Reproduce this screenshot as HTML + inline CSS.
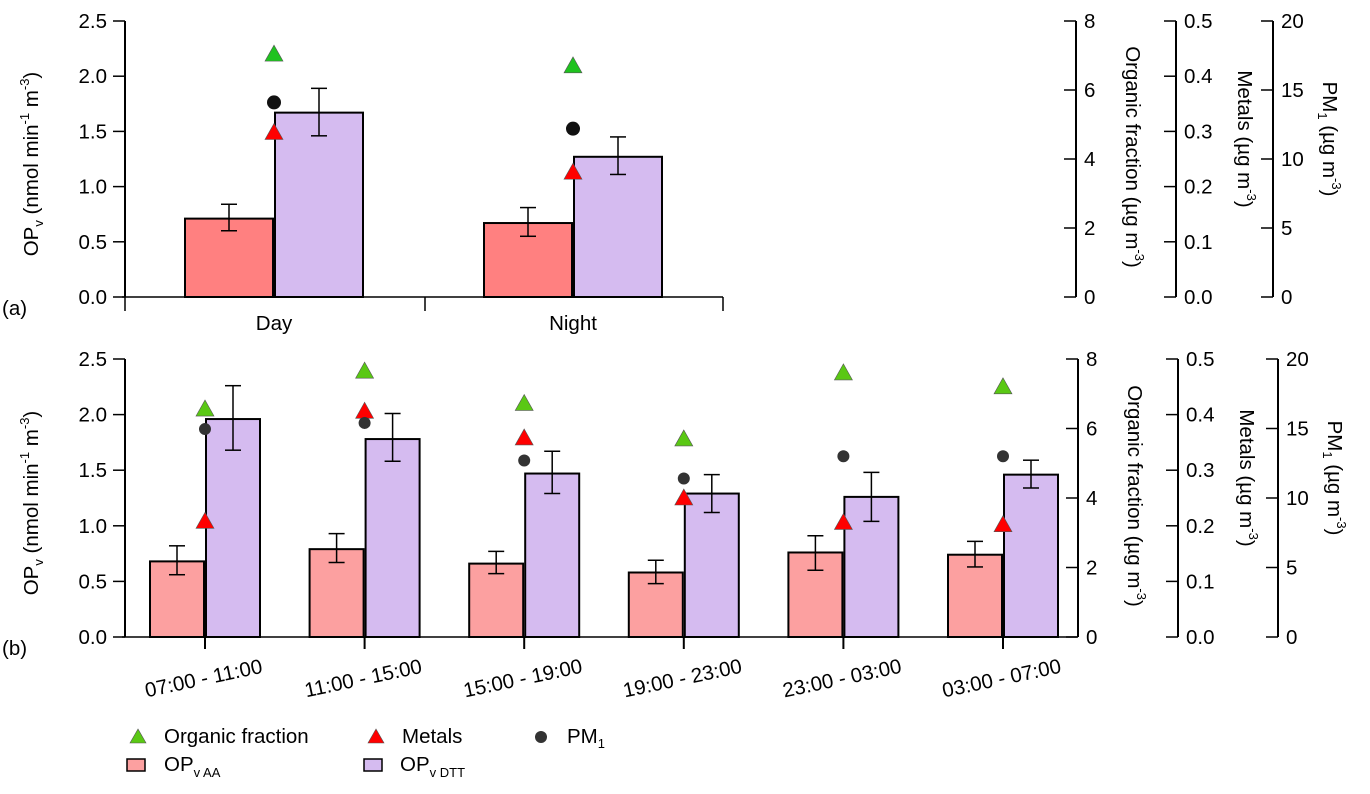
<!DOCTYPE html>
<html><head><meta charset="utf-8"><style>
html,body{margin:0;padding:0;background:#fff;}
svg{display:block;font-family:"Liberation Sans",Arial,sans-serif;}
</style></head><body>
<svg id="c" width="1370" height="794" viewBox="0 0 1370 794" xmlns="http://www.w3.org/2000/svg"></svg>
<script>
// Panel (a) data
const catsA = ["Day","Night"];
const aaA = [0.71,0.67], aaLoA=[0.60,0.55], aaHiA=[0.84,0.81];
const dttA = [1.67,1.27], dttLoA=[1.46,1.11], dttHiA=[1.89,1.45];
const orgA = [7.04,6.70];
const metA = [0.298,0.226];
const pmA = [14.1,12.2];
// Panel (b) data
const catsB = ["07:00 - 11:00","11:00 - 15:00","15:00 - 19:00","19:00 - 23:00","23:00 - 03:00","03:00 - 07:00"];
const aaB = [0.68,0.79,0.66,0.58,0.76,0.74];
const aaLoB = [0.56,0.67,0.57,0.48,0.60,0.63];
const aaHiB = [0.82,0.93,0.77,0.69,0.91,0.86];
const dttB = [1.96,1.78,1.47,1.29,1.26,1.46];
const dttLoB = [1.68,1.58,1.29,1.12,1.04,1.34];
const dttHiB = [2.26,2.01,1.67,1.46,1.48,1.59];
const orgB = [6.56,7.65,6.72,5.70,7.60,7.20];
const metB = [0.208,0.406,0.358,0.250,0.206,0.202];
const pmB = [14.96,15.4,12.7,11.4,13.0,13.0];
const opTicks = ["0.0","0.5","1.0","1.5","2.0","2.5"];
const orgTicks = ["0","2","4","6","8"];
const metTicks = ["0.0","0.1","0.2","0.3","0.4","0.5"];
const pmTicks = ["0","5","10","15","20"];

const FS=20.5;
const svg=document.getElementById('c');
const NS="http://www.w3.org/2000/svg";
function mk(tag,attrs,parent,name,text){
  const e=document.createElementNS(NS,tag);
  for(const k in attrs)e.setAttribute(k,attrs[k]);
  
  
  if(text!==undefined)e.textContent=text;
  (parent||svg).appendChild(e);return e;
}
function line(x1,y1,x2,y2,w,name,g){return mk('line',{x1,y1,x2,y2,stroke:'#000','stroke-width':w||1.5},g,name);}

function panel(cfg){
  const g=mk('g',{},svg,cfg.name);
  const y0=cfg.y0,y1=cfg.y1,H=y0-y1;
  const yOP=v=>y0-v/2.5*H, yOrg=v=>y0-v/8*H, yMet=v=>y0-v/0.5*H, yPM=v=>y0-v/20*H;
  line(125,y1,125,y0,2,'y-axis-left',g);
  opTicks.forEach((t,i)=>{const y=y0-i/5*H;line(113,y,125,y,1.5,'y-tick',g);
    mk('text',{x:107,y:y+7,'text-anchor':'end','font-size':FS},g,'y-tick-label',t);});
  const tt=mk('text',{transform:`translate(${cfg.titleX},${(y0+y1)/2+5}) rotate(-90)`,'text-anchor':'middle','font-size':FS},g,'y-axis-title');
  tt.innerHTML='OP<tspan font-size="13" dy="5">v</tspan><tspan dy="-5"> (nmol min</tspan><tspan font-size="13" dy="-9">-1</tspan><tspan dy="9"> m</tspan><tspan font-size="13" dy="-9">-3</tspan><tspan dy="9">)</tspan>';
  mk('text',{x:2,y:y0+18,'font-size':FS},g,'panel-label',cfg.label);
  line(122,y0,cfg.xEnd,y0,1.5,'x-axis',g);
  cfg.cats.forEach((c,i)=>{
    const cx=cfg.cx(i);
    mk('rect',{x:cx-cfg.bw-1,y:yOP(cfg.aa[i]),width:cfg.bw,height:y0-yOP(cfg.aa[i]),fill:cfg.aaCol,stroke:'#000','stroke-width':2},g,'bar-op-aa');
    mk('rect',{x:cx+1,y:yOP(cfg.dtt[i]),width:cfg.bw,height:y0-yOP(cfg.dtt[i]),fill:'#d5bbf0',stroke:'#000','stroke-width':2},g,'bar-op-dtt');
    [[cx-cfg.bw/2-1,cfg.aaLo[i],cfg.aaHi[i]],[cx+cfg.bw/2+1,cfg.dttLo[i],cfg.dttHi[i]]].forEach(e=>{
      line(e[0],yOP(e[1]),e[0],yOP(e[2]),1.5,'error-bar',g);
      line(e[0]-8,yOP(e[1]),e[0]+8,yOP(e[1]),1.5,'error-cap',g);
      line(e[0]-8,yOP(e[2]),e[0]+8,yOP(e[2]),1.5,'error-cap',g);
    });
    const tri=(y,col,name)=>mk('polygon',{points:`${cx},${y-9} ${cx-9},${y+7} ${cx+9},${y+7}`,fill:col,stroke:'#555','stroke-width':0.6},g,name);
    tri(yOrg(cfg.org[i]),cfg.greenCol,'marker-organic');
    tri(yMet(cfg.met[i]),'#f00','marker-metals');
    mk('circle',{cx:cx,cy:yPM(cfg.pm[i]),r:cfg.r,fill:cfg.pmCol},g,'marker-pm1');
    if(cfg.rot){
      line(cx,y0,cx,y0+12,2,'x-tick',g);
      mk('text',{transform:`translate(${cx},${y0+48}) rotate(-12)`,'text-anchor':'middle','font-size':FS},g,'x-tick-label',c);
    } else {
      mk('text',{x:cx,y:y0+33,'text-anchor':'middle','font-size':FS},g,'x-tick-label',c);
    }
  });
  if(!cfg.rot){[125,425,723].forEach(x=>line(x,y0,x,y0+14,1.5,'x-group-tick',g));}
  const axes=[[cfg.ax[0],orgTicks,'Organic fraction (µg m','organic-axis'],[cfg.ax[1],metTicks,'Metals (µg m','metals-axis'],[cfg.ax[2],pmTicks,'PM','pm1-axis']];
  axes.forEach((a,k)=>{
    const x=a[0];line(x,y1,x,y0,2,a[3],g);
    const n=a[1].length-1;
    a[1].forEach((t,i)=>{const y=y0-i/n*H;line(x-12,y,x,y,1.5,'y-tick-right',g);
      mk('text',{x:x+8,y:y+7,'font-size':FS},g,'y-tick-label-right',t);});
    const tx=x+(k==0?50:k==1?62:50);
    const cy=(y0+y1)/2-(k==0?2:20);
    const tl=mk('text',{transform:`translate(${tx},${cy}) rotate(90)`,'text-anchor':'middle','font-size':FS},g,a[3]+'-title');
    if(k<2) tl.innerHTML=a[2]+'<tspan font-size="13" dy="-9">-3</tspan><tspan dy="9">)</tspan>';
    else tl.innerHTML='PM<tspan font-size="13" dy="5">1</tspan><tspan dy="-5"> (µg m</tspan><tspan font-size="13" dy="-9">-3</tspan><tspan dy="9">)</tspan>';
  });
}
panel({name:'panel-a',label:'(a)',y0:297,y1:21,titleX:38,xEnd:723,cats:catsA,cx:i=>274+i*299,bw:88,
  aa:aaA,aaLo:aaLoA,aaHi:aaHiA,dtt:dttA,dttLo:dttLoA,dttHi:dttHiA,org:orgA,met:metA,pm:pmA,
  aaCol:'#ff8080',greenCol:'#1fc21f',pmCol:'#111',r:7,rot:false,ax:[1076,1176,1273]});
panel({name:'panel-b',label:'(b)',y0:637,y1:359,titleX:38,xEnd:1077,cats:catsB,cx:i=>205+i*159.6,bw:54,
  aa:aaB,aaLo:aaLoB,aaHi:aaHiB,dtt:dttB,dttLo:dttLoB,dttHi:dttHiB,org:orgB,met:metB,pm:pmB,
  aaCol:'#fca0a0',greenCol:'#5ac814',pmCol:'#333',r:6,rot:true,ax:[1078,1178,1278]});
const lg=mk('g',{},svg,'legend');
const ltri=(x,y,col,name)=>mk('polygon',{points:`${x},${y-8} ${x-8},${y+6} ${x+8},${y+6}`,fill:col,stroke:'#555','stroke-width':0.6},lg,name);
ltri(138,737,'#5ac814','legend-organic-marker');
mk('text',{x:164,y:743,'font-size':FS},lg,'legend-organic-label','Organic fraction');
ltri(376,737,'#f00','legend-metals-marker');
mk('text',{x:402,y:743,'font-size':FS},lg,'legend-metals-label','Metals');
mk('circle',{cx:541,cy:737,r:6,fill:'#333'},lg,'legend-pm1-marker');
const p=mk('text',{x:567,y:743,'font-size':FS},lg,'legend-pm1-label');p.innerHTML='PM<tspan font-size="13" dy="5">1</tspan>';
mk('rect',{x:127,y:759,width:18,height:12,fill:'#fca0a0',stroke:'#000','stroke-width':1.5},lg,'legend-aa-swatch');
const a1=mk('text',{x:164,y:771,'font-size':FS},lg,'legend-aa-label');a1.innerHTML='OP<tspan font-size="13" dy="6">v AA</tspan>';
mk('rect',{x:364,y:759,width:18,height:12,fill:'#d5bbf0',stroke:'#000','stroke-width':1.5},lg,'legend-dtt-swatch');
const a2=mk('text',{x:400,y:771,'font-size':FS},lg,'legend-dtt-label');a2.innerHTML='OP<tspan font-size="13" dy="6">v DTT</tspan>';
</script>
</body></html>
